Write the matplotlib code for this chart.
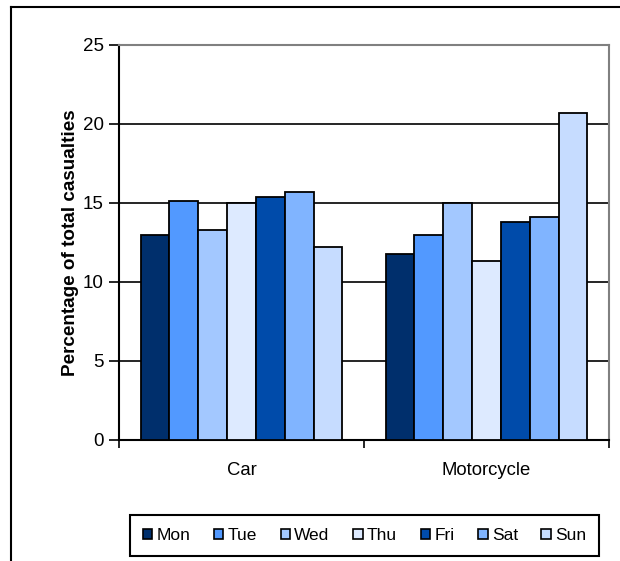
import numpy as np
import matplotlib.pyplot as plt
from matplotlib.patches import Patch
from matplotlib.lines import Line2D

plt.rcParams['font.family'] = ['Liberation Sans', 'DejaVu Sans']

# data
categories = ['Car', 'Motorcycle']
days = ['Mon', 'Tue', 'Wed', 'Thu', 'Fri', 'Sat', 'Sun']
values = {
    'Mon': [13.0, 11.8],
    'Tue': [15.1, 13.0],
    'Wed': [13.3, 15.0],
    'Thu': [15.0, 11.3],
    'Fri': [15.4, 13.8],
    'Sat': [15.7, 14.1],
    'Sun': [12.2, 20.7],
}
colors = ['#002F6C', '#5299FF', '#A3C8FF', '#DDEAFF', '#004BAA', '#80B4FF', '#C6DCFF']

fig = plt.figure(figsize=(6.2, 5.61), dpi=100)
ax = fig.add_axes([0.1919, 0.2157, 0.7903, 0.7041])

n = len(days)
width = 1 / (n + 1.5)
x = np.arange(len(categories))
for i, d in enumerate(days):
    ax.bar(x + (i - (n - 1) / 2) * width, values[d], width,
           color=colors[i], edgecolor='black', linewidth=1.3, zorder=3, label=d)

ax.set_xlim(-0.5, len(categories) - 0.5)
ax.set_ylim(0, 25)
ax.set_yticks(range(0, 26, 5))
ax.set_xticks(x)
ax.set_xticklabels(categories, fontsize=13.3)
ax.set_xticks([-0.5, 0.5, 1.5], minor=True)
ax.tick_params(axis='x', which='major', length=0, pad=16)
ax.tick_params(axis='x', which='minor', length=6, width=1.2, direction='out')
ax.tick_params(axis='y', length=7, width=1.2, direction='out', labelsize=13.5, pad=4)
ax.yaxis.grid(True, color='black', linewidth=1.2, zorder=0)
ax.set_axisbelow(True)

for s in ['left', 'bottom']:
    ax.spines[s].set_linewidth(1.5)
    ax.spines[s].set_color('black')
for s in ['top', 'right']:
    ax.spines[s].set_linewidth(1.5)
    ax.spines[s].set_color('#808080')

ax.set_ylabel('Percentage of total casualties', fontsize=13.6, fontweight='bold', labelpad=3)

handles = [Patch(facecolor=colors[i], edgecolor='black', linewidth=1.2) for i in range(n)]
leg = fig.legend(handles, days, ncol=n, loc='center',
                 bbox_to_anchor=(0.2097, 0.0071, 0.7565, 0.0766),
                 fancybox=False, edgecolor='black', framealpha=1,
                 handlelength=0.55, handleheight=0.55, handletextpad=0.25,
                 columnspacing=1.35, fontsize=12.5, borderpad=0.75)
leg.get_frame().set_linewidth(1.5)

# outer chart border (cut off on right and bottom)
fig.add_artist(Line2D([0.0177, 0.0177], [0.0, 0.9875], color='black', linewidth=1.5))
fig.add_artist(Line2D([0.0177, 1.0], [0.9875, 0.9875], color='black', linewidth=1.5))

fig.savefig('out.png', dpi=100)
